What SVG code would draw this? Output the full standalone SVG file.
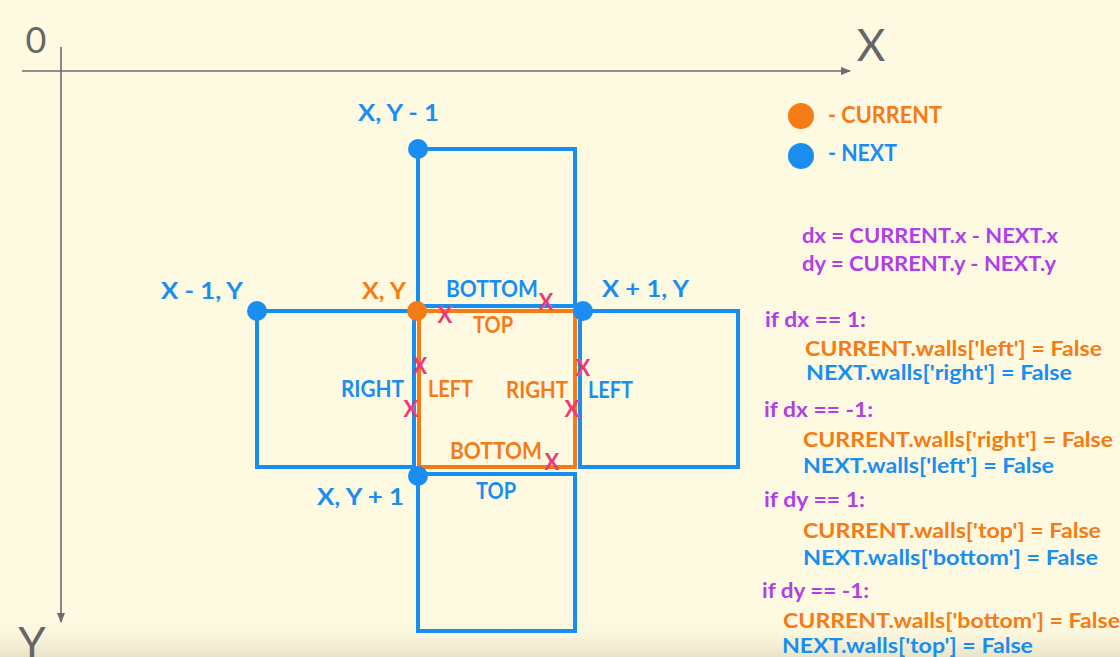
<svg xmlns="http://www.w3.org/2000/svg" width="1120" height="657" viewBox="0 0 1120 657">
<defs>
<linearGradient id="shade" x1="0" y1="0" x2="0" y2="1">
<stop offset="0" stop-color="#fefae2" stop-opacity="0"/>
<stop offset="1" stop-color="#e9e3c6"/>
</linearGradient>
<marker id="arr" viewBox="0 0 10 10" refX="9" refY="5" markerWidth="10" markerHeight="10" markerUnits="userSpaceOnUse" orient="auto">
<path d="M0,1 L10,5 L0,9 Z" fill="#6b6b6b"/>
</marker>
<style>
.t{font-family:Lato,"Open Sans",sans-serif;font-weight:bold;}
.blue{fill:#1a8ef0;}
.orange{fill:#f57b14;}
.purple{fill:#b03fe6;}
.pink{fill:#ec3a78;font-size:22px;}
.lbl{font-size:23px;}
.code{font-size:21px;}
.cellb{fill:none;stroke:#1a8ef0;stroke-width:4;}
.cello{fill:none;stroke:#f57b14;stroke-width:4;}
.axis{stroke:#6b6b6b;stroke-width:1.6;fill:none;}
.axlbl{font-family:Lato,"Open Sans",sans-serif;fill:#666;}
</style>
</defs>
<rect width="1120" height="657" fill="#fefae2"/>
<rect x="0" y="615" width="1120" height="42" fill="url(#shade)"/>

<g id="connectors">
<line class="axis" x1="22" y1="71" x2="850" y2="71" marker-end="url(#arr)"/>
<line class="axis" x1="61" y1="47" x2="61" y2="622" marker-end="url(#arr)"/>
</g>

<g id="axis-labels">
<text class="axlbl" x="36" y="53" font-size="36" text-anchor="middle">0</text>
<text class="axlbl" x="871" y="61" font-size="44" text-anchor="middle">X</text>
<text class="axlbl" x="32" y="659" font-size="44" text-anchor="middle">Y</text>
</g>

<g id="cell-top">
<rect class="cellb" x="418" y="149" width="157" height="157"/>
<circle cx="418" cy="149" r="10" fill="#1a8ef0"/>
<text class="t lbl blue" x="358" y="121" textLength="81" lengthAdjust="spacingAndGlyphs">X, Y - 1</text>
<text class="t lbl blue" x="446" y="297" textLength="92" lengthAdjust="spacingAndGlyphs">BOTTOM</text>
</g>

<g id="cell-left">
<rect class="cellb" x="257" y="311" width="157" height="156"/>
<circle cx="257" cy="311" r="10" fill="#1a8ef0"/>
<text class="t lbl blue" x="161" y="299" textLength="82" lengthAdjust="spacingAndGlyphs">X - 1, Y</text>
<text class="t lbl blue" x="341" y="397" textLength="63" lengthAdjust="spacingAndGlyphs">RIGHT</text>
</g>

<g id="cell-right">
<rect class="cellb" x="580" y="311" width="158" height="156"/>
<text class="t lbl blue" x="602" y="297" textLength="87" lengthAdjust="spacingAndGlyphs">X + 1, Y</text>
<text class="t lbl blue" x="588" y="398" textLength="45" lengthAdjust="spacingAndGlyphs">LEFT</text>
</g>

<g id="cell-bottom">
<rect class="cellb" x="418" y="474" width="157" height="157"/>
<text class="t lbl blue" x="317" y="505" textLength="87" lengthAdjust="spacingAndGlyphs">X, Y + 1</text>
<text class="t lbl blue" x="476" y="499" textLength="40" lengthAdjust="spacingAndGlyphs">TOP</text>
</g>

<g id="cell-current">
<rect class="cello" x="419" y="311" width="156" height="156"/>
<circle cx="583" cy="311" r="10" fill="#1a8ef0"/>
<circle cx="418" cy="476" r="10" fill="#1a8ef0"/>
<circle cx="417" cy="311" r="10" fill="#f57b14"/>
<text class="t lbl orange" x="362" y="299" textLength="44" lengthAdjust="spacingAndGlyphs">X, Y</text>
<text class="t lbl orange" x="473" y="333" textLength="40" lengthAdjust="spacingAndGlyphs">TOP</text>
<text class="t lbl orange" x="428" y="397" textLength="45" lengthAdjust="spacingAndGlyphs">LEFT</text>
<text class="t lbl orange" x="506" y="398" textLength="62" lengthAdjust="spacingAndGlyphs">RIGHT</text>
<text class="t lbl orange" x="450" y="459" textLength="92" lengthAdjust="spacingAndGlyphs">BOTTOM</text>
</g>

<g id="removed-walls">
<text class="t pink" x="445" y="323" text-anchor="middle">X</text>
<text class="t pink" x="546" y="310" text-anchor="middle">X</text>
<text class="t pink" x="420" y="374" text-anchor="middle">X</text>
<text class="t pink" x="411" y="417" text-anchor="middle">X</text>
<text class="t pink" x="583" y="376" text-anchor="middle">X</text>
<text class="t pink" x="572" y="417" text-anchor="middle">X</text>
<text class="t pink" x="552" y="470" text-anchor="middle">X</text>
</g>

<g id="legend">
<circle cx="801" cy="116" r="13" fill="#f57b14"/>
<text class="t lbl orange" x="828" y="123" textLength="114" lengthAdjust="spacingAndGlyphs">- CURRENT</text>
<circle cx="801" cy="156" r="13" fill="#1a8ef0"/>
<text class="t lbl blue" x="828" y="161" textLength="69" lengthAdjust="spacingAndGlyphs">- NEXT</text>
</g>

<g id="code">
<text class="t code purple" x="802" y="243" textLength="256" lengthAdjust="spacingAndGlyphs">dx = CURRENT.x - NEXT.x</text>
<text class="t code purple" x="802" y="271" textLength="254" lengthAdjust="spacingAndGlyphs">dy = CURRENT.y - NEXT.y</text>
<text class="t code purple" x="765" y="327" textLength="101" lengthAdjust="spacingAndGlyphs">if dx == 1:</text>
<text class="t code orange" x="805" y="356" textLength="297" lengthAdjust="spacingAndGlyphs">CURRENT.walls['left'] = False</text>
<text class="t code blue" x="806" y="380" textLength="266" lengthAdjust="spacingAndGlyphs">NEXT.walls['right'] = False</text>
<text class="t code purple" x="764" y="417" textLength="109" lengthAdjust="spacingAndGlyphs">if dx == -1:</text>
<text class="t code orange" x="803" y="447" textLength="310" lengthAdjust="spacingAndGlyphs">CURRENT.walls['right'] = False</text>
<text class="t code blue" x="803" y="473" textLength="251" lengthAdjust="spacingAndGlyphs">NEXT.walls['left'] = False</text>
<text class="t code purple" x="764" y="507" textLength="101" lengthAdjust="spacingAndGlyphs">if dy == 1:</text>
<text class="t code orange" x="803" y="538" textLength="298" lengthAdjust="spacingAndGlyphs">CURRENT.walls['top'] = False</text>
<text class="t code blue" x="803" y="565" textLength="295" lengthAdjust="spacingAndGlyphs">NEXT.walls['bottom'] = False</text>
<text class="t code purple" x="762" y="598" textLength="107" lengthAdjust="spacingAndGlyphs">if dy == -1:</text>
<text class="t code orange" x="783" y="628" textLength="337" lengthAdjust="spacingAndGlyphs">CURRENT.walls['bottom'] = False</text>
<text class="t code blue" x="782" y="653" textLength="251" lengthAdjust="spacingAndGlyphs">NEXT.walls['top'] = False</text>
</g>
</svg>
